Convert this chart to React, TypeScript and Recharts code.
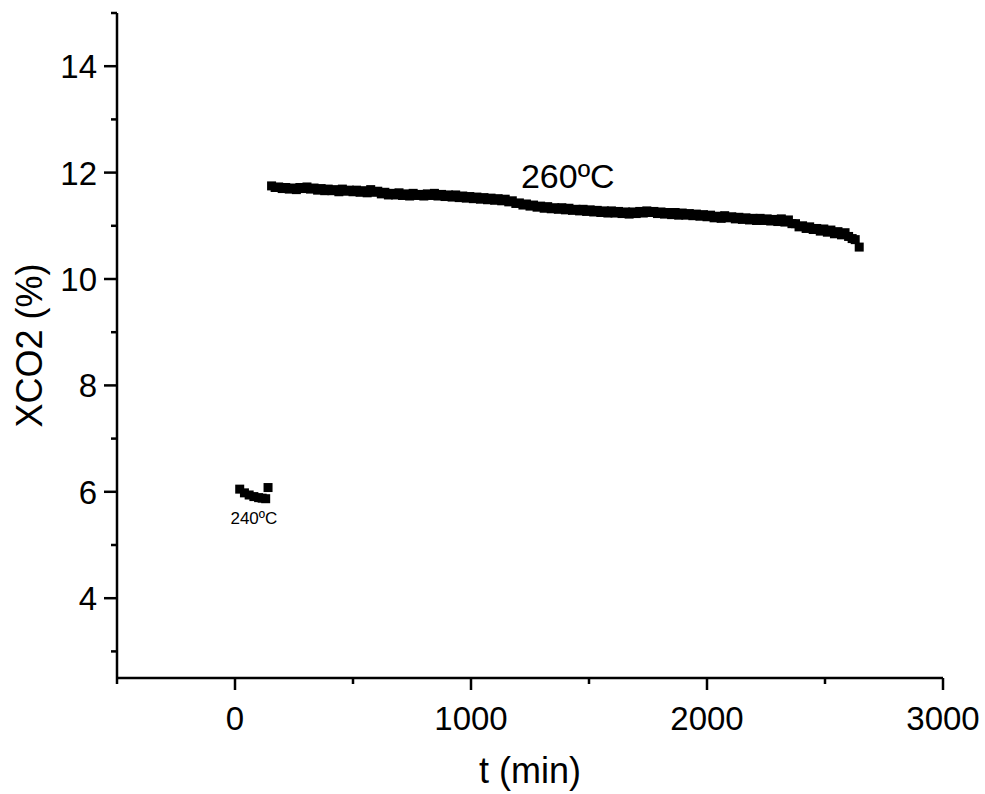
import { ScatterChart, Scatter, XAxis, YAxis, ReferenceDot } from "recharts";

// 240ºC segment
const t240 = [20, 40, 60, 80, 100, 115, 130, 140];
const x240 = [6.05, 5.98, 5.94, 5.91, 5.89, 5.88, 5.87, 6.08];

// 260ºC segment (rows of 10, t and XCO2 aligned row by row)
const t260 = [
  155, 170, 185, 200, 215, 230, 245, 260, 275, 290,
  305, 320, 335, 350, 365, 380, 395, 410, 425, 440,
  455, 470, 485, 500, 515, 530, 545, 560, 575, 590,
  605, 620, 635, 650, 665, 680, 695, 710, 725, 740,
  755, 770, 785, 800, 815, 830, 845, 860, 875, 890,
  905, 920, 935, 950, 965, 980, 995, 1010, 1025, 1040,
  1055, 1070, 1085, 1100, 1115, 1130, 1145, 1160, 1175, 1190,
  1205, 1220, 1235, 1250, 1265, 1280, 1295, 1310, 1325, 1340,
  1355, 1370, 1385, 1400, 1415, 1430, 1445, 1460, 1475, 1490,
  1505, 1520, 1535, 1550, 1565, 1580, 1595, 1610, 1625, 1640,
  1655, 1670, 1685, 1700, 1715, 1730, 1745, 1760, 1775, 1790,
  1805, 1820, 1835, 1850, 1865, 1880, 1895, 1910, 1925, 1940,
  1955, 1970, 1985, 2000, 2015, 2030, 2045, 2060, 2075, 2090,
  2105, 2120, 2135, 2150, 2165, 2180, 2195, 2210, 2225, 2240,
  2255, 2270, 2285, 2300, 2315, 2330, 2345, 2360, 2375, 2390,
  2405, 2420, 2435, 2450, 2465, 2480, 2495, 2510, 2525, 2540,
  2555, 2570, 2585, 2600, 2615, 2628, 2645,
];
const x260 = [
  11.75, 11.72, 11.73, 11.7, 11.72, 11.69, 11.71, 11.68, 11.72, 11.7,
  11.73, 11.69, 11.71, 11.67, 11.7, 11.66, 11.69, 11.66, 11.68, 11.64,
  11.69, 11.65, 11.67, 11.64, 11.67, 11.63, 11.66, 11.62, 11.68, 11.63,
  11.65, 11.6, 11.63, 11.58, 11.61, 11.58, 11.62, 11.57, 11.6, 11.56,
  11.61, 11.57, 11.59, 11.56, 11.6, 11.57, 11.61, 11.56, 11.59, 11.55,
  11.58, 11.54, 11.58, 11.53, 11.56, 11.52, 11.55, 11.51, 11.54, 11.5,
  11.53, 11.49, 11.52, 11.48, 11.51, 11.47, 11.5, 11.45, 11.47, 11.42,
  11.43, 11.39, 11.41, 11.37, 11.39, 11.35, 11.37, 11.33, 11.36, 11.32,
  11.34, 11.31, 11.34, 11.3, 11.33, 11.29, 11.31, 11.28, 11.31, 11.27,
  11.3, 11.26, 11.29, 11.25, 11.28, 11.24, 11.28, 11.24, 11.27, 11.23,
  11.26, 11.22, 11.26, 11.23, 11.27, 11.24, 11.28, 11.25, 11.27, 11.23,
  11.26, 11.22, 11.25, 11.21, 11.25, 11.2, 11.24, 11.2, 11.23, 11.19,
  11.22, 11.18, 11.21, 11.17, 11.2, 11.15, 11.18, 11.14, 11.19, 11.15,
  11.17, 11.13, 11.16, 11.12, 11.15, 11.11, 11.14, 11.1, 11.14, 11.1,
  11.13, 11.09, 11.12, 11.08, 11.13, 11.07, 11.11, 11.04, 11.04, 10.98,
  11.0, 10.95, 10.98, 10.93, 10.95, 10.9, 10.94, 10.88, 10.92, 10.85,
  10.89, 10.83, 10.87, 10.8, 10.76, 10.74, 10.6,
];

const xMajor = [0, 1000, 2000, 3000];
const xTicks = [-500, 0, 500, 1000, 1500, 2000, 2500, 3000];
const yMajor = [4, 6, 8, 10, 12, 14];
const yTicks = [3, 4, 5, 6, 7, 8, 9, 10, 11, 12, 13, 14, 15];

const data240 = t240.map((t, i) => ({ t, v: x240[i] }));
const data260 = t260.map((t, i) => ({ t, v: x260[i] }));

const FONT = "'Liberation Sans', Arial, sans-serif";

const Square = (props: any) => {
  const { cx, cy } = props;
  return <rect x={cx - 4.5} y={cy - 4.5} width={9} height={9} fill="#000" />;
};

const XTick = (props: any) => {
  const { x, y, payload } = props;
  const major = xMajor.includes(payload.value);
  return (
    <g>
      <line x1={x} y1={y} x2={x} y2={y + (major ? 12 : 6)} stroke="#000" strokeWidth={2.5} />
      {major && (
        <text x={x} y={y + 52} textAnchor="middle" fontSize={33} fontFamily={FONT} fill="#000">
          {payload.value}
        </text>
      )}
    </g>
  );
};

const YTick = (props: any) => {
  const { x, y, payload } = props;
  const major = yMajor.includes(payload.value);
  return (
    <g>
      <line x1={x - (major ? 13 : 6)} y1={y} x2={x} y2={y} stroke="#000" strokeWidth={2.5} />
      {major && (
        <text x={x - 20} y={y + 12} textAnchor="end" fontSize={33} fontFamily={FONT} fill="#000">
          {payload.value}
        </text>
      )}
    </g>
  );
};

export default function App() {
  return (
    <div style={{ position: "absolute", left: 0, top: 0, background: "#fff" }}>
      <ScatterChart width={985} height={794} margin={{ top: 13, right: 42, bottom: 36, left: 0 }}>
        <XAxis
          type="number"
          dataKey="t"
          domain={[-500, 3000]}
          ticks={xTicks}
          interval={0}
          tick={<XTick />}
          tickLine={false}
          tickSize={0}
          tickMargin={0}
          height={80}
          axisLine={{ stroke: "#000", strokeWidth: 2.5 }}
          allowDataOverflow
          label={{
            content: ({ viewBox }: any) => (
              <text
                x={viewBox.x + viewBox.width / 2}
                y={viewBox.y + 105}
                textAnchor="middle"
                fontSize={36}
                fontFamily={FONT}
                fill="#000"
              >
                t (min)
              </text>
            ),
          }}
        />
        <YAxis
          type="number"
          dataKey="v"
          domain={[2.5, 15]}
          ticks={yTicks}
          interval={0}
          tick={<YTick />}
          tickLine={false}
          tickSize={0}
          tickMargin={0}
          width={117}
          axisLine={{ stroke: "#000", strokeWidth: 2.5 }}
          allowDataOverflow
          label={{
            content: ({ viewBox }: any) => {
              const cx = viewBox.x + 29;
              const cy = viewBox.y + viewBox.height / 2;
              return (
                <text
                  x={cx}
                  y={cy}
                  transform={`rotate(-90 ${cx} ${cy})`}
                  textAnchor="middle"
                  dominantBaseline="central"
                  fontSize={36}
                  fontFamily={FONT}
                  fill="#000"
                >
                  XCO2 (%)
                </text>
              );
            },
          }}
        />
        <Scatter data={data240} shape={<Square />} isAnimationActive={false} />
        <Scatter data={data260} shape={<Square />} isAnimationActive={false} />
        <ReferenceDot
          x={1410}
          y={11.93}
          r={0}
          stroke="none"
          label={{ value: "260ºC", position: "center", fontSize: 34, fontFamily: FONT, fill: "#000" }}
        />
        <ReferenceDot
          x={80}
          y={5.51}
          r={0}
          stroke="none"
          label={{ value: "240ºC", position: "center", fontSize: 17, fontFamily: FONT, fill: "#000" }}
        />
      </ScatterChart>
    </div>
  );
}
